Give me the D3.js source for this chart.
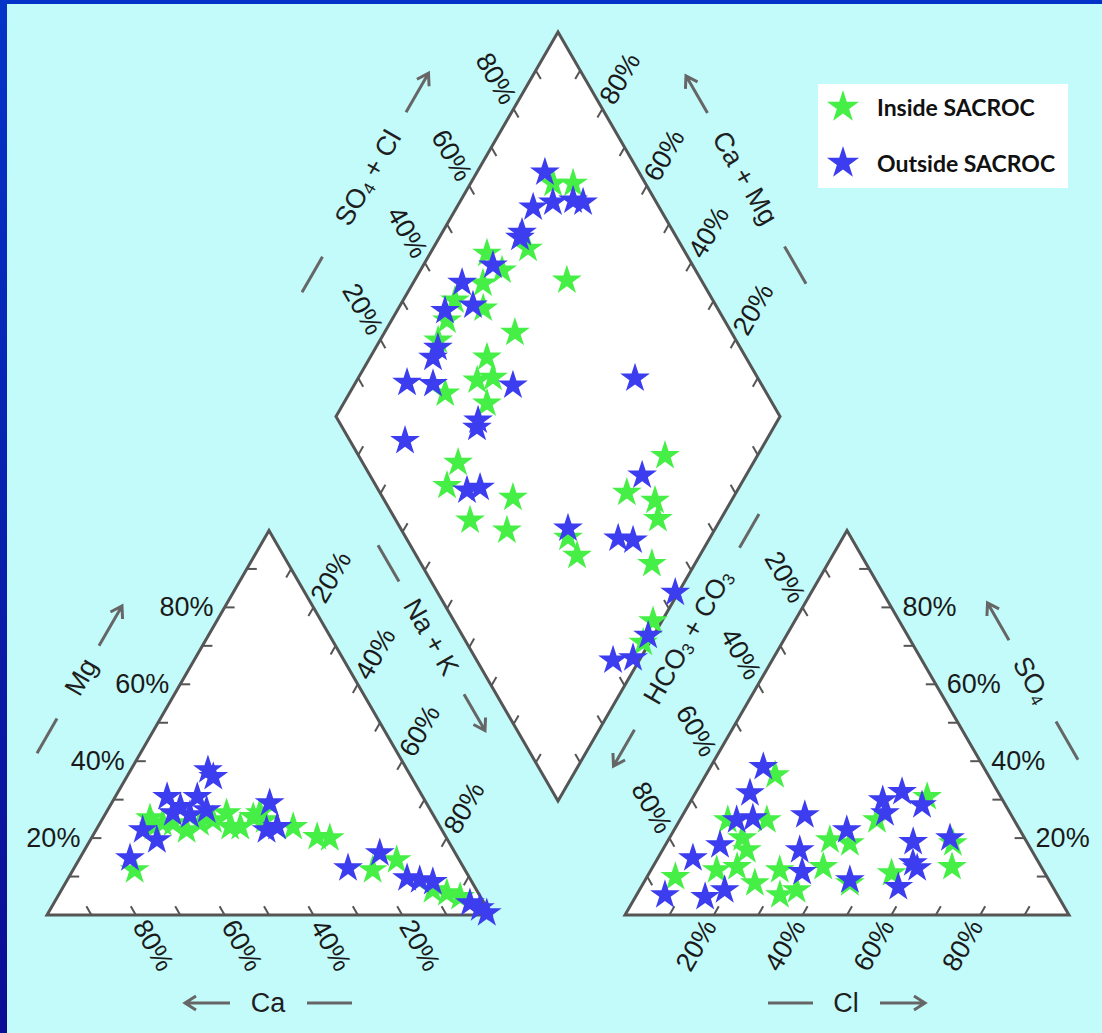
<!DOCTYPE html>
<html><head><meta charset="utf-8">
<script src="https://cdn.jsdelivr.net/npm/d3@7"></script>
<style>body{margin:0;background:#c3fbfb;overflow:hidden} svg{display:block}</style>
</head><body>
<svg id="c" width="1102" height="1033"></svg>
<script>
// ---------------- DATA (percent) ----------------
// Cation triangle: [Na+K, Mg]  (Ca = remainder)
const cationInside = [[13.9,11.7],[12.5,22.9],[14.1,23.9],[16.4,23.9],[20.4,22.1],[22.5,23.9],[27.2,26.5],[29.8,22.9],[32.1,22.9],[33.7,25.5],[34.7,26.5],[44.0,22.9],[50.7,20.3],[53.7,20.0],[67.5,11.7],[71.6,14.3],[83.6,6.5],[87.2,5.7],[90.7,4.7],[10.6,25.2],[25.0,24.7],[36.7,24.7]];
const cationOutside = [[11.3,14.8],[17.4,37.7],[19.5,35.9],[11.7,30.7],[18.5,30.7],[16.0,28.1],[15.1,26.5],[10.5,22.1],[15.0,19.5],[22.3,27.3],[35.6,29.1],[38.4,22.1],[40.4,22.9],[61.7,12.2],[66.9,16.1],[76.3,9.6],[79.4,9.1],[82.6,8.6],[93.7,3.1],[98.8,0.5],[96.6,1.8],[19.2,26.0]];
// Anion triangle: [Cl, SO4]  (HCO3+CO3 = remainder)
const anionInside = [[15.6,36.4],[10.8,24.7],[16.4,20.0],[19.6,24.7],[19.0,16.9],[6.4,9.9],[14.8,11.7],[25.1,8.3],[29.0,11.7],[32.3,5.2],[38.4,12.5],[36.4,19.5],[41.3,18.7],[46.5,8.3],[44.4,24.7],[52.7,30.7],[54.6,10.9],[67.4,12.5],[64.5,18.7],[35.4,6.5],[19.0,12.5]];
const anionOutside = [[11.9,38.5],[12.3,31.7],[27.5,26.0],[38.9,22.1],[43.1,29.9],[46.4,32.0],[45.3,26.5],[52.6,28.6],[55.4,19.0],[63.2,20.0],[58.1,13.5],[59.7,12.2],[57.9,7.3],[46.1,9.1],[30.9,16.9],[34.3,11.2],[12.3,18.2],[7.9,14.8],[6.4,5.2],[15.7,4.7],[19.2,6.5],[12.8,24.7],[16.2,25.2]];
// Diamond: [Na+K, SO4+Cl]
const diamondInside = [[18.6,79.2],[23.1,83.7],[21.4,65.1],[12.8,55.2],[18.4,56.4],[15.8,50.4],[11.7,41.9],[19.1,47.2],[12.5,37.5],[13.1,32.9],[34.3,69.7],[29.4,51.2],[26.3,41.7],[30.3,40.4],[27.1,36.5],[21.6,27.6],[32.3,35.7],[33.5,21.5],[34.0,16.0],[50.4,29.3],[43.7,16.7],[53.3,23.7],[68.0,36.5],[72.4,36.2],[79.2,69.0],[75.4,55.6],[82.8,60.9],[85.8,59.2],[90.3,52.0],[98.0,44.8],[98.6,39.8]];
const diamondOutside = [[15.3,78.8],[17.2,71.6],[21.0,76.7],[25.3,81.5],[27.8,83.5],[18.0,65.8],[18.2,64.7],[15.7,55.0],[11.0,45.8],[16.4,45.3],[10.8,38.3],[14.0,31.9],[14.2,29.5],[11.6,20.4],[17.6,26.1],[35.8,43.9],[62.4,72.3],[32.5,31.5],[33.2,30.3],[18.7,12.4],[39.1,19.9],[41.7,23.2],[66.8,37.7],[76.6,61.3],[79.4,47.7],[83.0,50.8],[99.3,53.5],[98.8,41.8],[94.1,30.7],[98.3,35.5]];
const tickValues = [10,20,30,40,50,60,70,80,90];
const labelValues = [20,40,60,80];
const seriesNames = ["Inside SACROC","Outside SACROC"];
const seriesColors = ["#46ef46","#3d3df0"];

// ---------------- GEOMETRY ----------------
const svg = d3.select("#c");
const S = 444, H = S*Math.sqrt(3)/2;
const LX = 47, RX = 625, Y0 = 915;
const DLx = 336, DLy = 416.5;
const xL = d3.scaleLinear().domain([0,100]).range([LX, LX+S]);
const xR = d3.scaleLinear().domain([0,100]).range([RX, RX+S]);
const yT = d3.scaleLinear().domain([0,100]).range([Y0, Y0-H]);
const xD = d3.scaleLinear().domain([0,200]).range([DLx, DLx+S]);
const yD = d3.scaleLinear().domain([-100,100]).range([DLy-H, DLy+H]);
const cat = (n,m) => [xL(n+m/2), yT(m)];
const an = (c,s) => [xR(c+s/2), yT(s)];
const dia = (u,v) => [xD(u+v), yD(u-v)];

// background + border
const defs = svg.append("defs");
const g1 = defs.append("linearGradient").attr("id","lb").attr("x1",0).attr("y1",0).attr("x2",0).attr("y2",1);
g1.append("stop").attr("offset","0%").attr("stop-color","#0434c8");
g1.append("stop").attr("offset","100%").attr("stop-color","#0c0c94");
svg.append("rect").attr("width",1102).attr("height",1033).attr("fill","#c3fbfb");
svg.append("rect").attr("width",1102).attr("height",4).attr("fill","#0432c8");
svg.append("rect").attr("width",7).attr("height",1033).attr("fill","url(#lb)");

const edge = "#555555";
const line = d3.line();
function poly(pts){
  svg.append("path").attr("d", line(pts)+"Z").attr("fill","#ffffff")
    .attr("stroke",edge).attr("stroke-width",3).attr("stroke-linejoin","miter");
}
poly([cat(0,0),cat(100,0),cat(0,100)]);
poly([an(0,0),an(100,0),an(0,100)]);
poly([dia(0,0),dia(0,100),dia(100,100),dia(100,0)]);

// ticks
const TL = 10, c60 = 0.5, s60 = Math.sqrt(3)/2;
const tickG = svg.append("g").attr("stroke",edge).attr("stroke-width",2);
function ticks(posFn, dir){
  tickValues.forEach(v=>{
    const p = posFn(v);
    tickG.append("line").attr("x1",p[0]).attr("y1",p[1])
      .attr("x2",p[0]+dir[0]*TL).attr("y2",p[1]+dir[1]*TL);
  });
}
ticks(v=>cat(0,v),[1,0]);
ticks(v=>cat(v,100-v),[-c60,s60]);
ticks(v=>cat(100-v,0),[-c60,-s60]);
ticks(v=>an(v,0),[c60,-s60]);
ticks(v=>an(100-v,v),[-1,0]);
ticks(v=>an(0,100-v),[c60,s60]);
ticks(v=>dia(0,v),[c60,s60]);
ticks(v=>dia(v,100),[-c60,s60]);
ticks(v=>dia(v,0),[c60,-s60]);
ticks(v=>dia(100,v),[-c60,-s60]);

// tick labels
const FONT = "'Liberation Sans', Arial, sans-serif";
const labG = svg.append("g").attr("font-family",FONT).attr("font-size",27).attr("fill","#1a1a1a");
function labels(posFn, off, rot, anchor){
  labelValues.forEach(v=>{
    const p = posFn(v);
    const x = p[0]+off[0], y = p[1]+off[1];
    labG.append("text").attr("x",x).attr("y",y)
      .attr("transform", rot ? `rotate(${rot},${x},${y})` : null)
      .attr("text-anchor",anchor).attr("dominant-baseline","central")
      .text(v+"%");
  });
}
const O = 8;
labels(v=>cat(0,v),[-11,0],0,"end");
labels(v=>cat(v,100-v),[O*c60,-O*s60],-60,"start");
labels(v=>cat(100-v,0),[O*c60,O*s60],60,"start");
labels(v=>an(v,0),[-O*c60,O*s60],-60,"end");
labels(v=>an(100-v,v),[11,0],0,"start");
labels(v=>an(0,100-v),[-O*c60,-O*s60],60,"end");
labels(v=>dia(0,v),[-O*c60,-O*s60],60,"end");
labels(v=>dia(100-v,100),[O*c60,-O*s60],-60,"start");

// axis titles with dash and arrow
const tG = svg.append("g").attr("font-family",FONT).attr("font-size",27).attr("fill","#1f1f1f");
function arrowPath(a,b){
  const d = b>a?1:-1;
  return `M${a},0L${b},0M${b-d*11},-7L${b},0L${b-d*11},7`;
}
function title(cx,cy,rot,parts,dash,arrow){
  const g = tG.append("g").attr("transform",`translate(${cx},${cy}) rotate(${rot})`);
  const t = g.append("text").attr("x",0).attr("y",0).attr("text-anchor","middle").attr("dominant-baseline","central");
  parts.forEach(p=>{
    const ts = t.append("tspan").text(p.t);
    if(p.sub){ ts.attr("font-size",17).attr("dy",6); }
    if(p.up){ ts.attr("dy",-6); }
  });
  g.append("path").attr("d",`M${dash[0]},0L${dash[1]},0`).attr("stroke","#666").attr("stroke-width",3).attr("fill","none");
  g.append("path").attr("d",arrowPath(arrow[0],arrow[1])).attr("stroke","#666").attr("stroke-width",3).attr("fill","none").attr("stroke-linejoin","miter");
}
title(81,677,-60,[{t:"Mg"}],[-88,-48],[36,82]);
title(268,1003,0,[{t:"Ca"}],[39,84],[-38,-83]);
title(431,637,60,[{t:"Na + K"}],[-106,-64],[66,108]);
title(846,1003,0,[{t:"Cl"}],[-78,-33],[34,79]);
title(688,637,-60,[{t:"HCO"},{t:"3",sub:true},{t:" + CO",up:true},{t:"3",sub:true}],[103,142],[-107,-149]);
title(1032,680,60,[{t:"SO"},{t:"4",sub:true}],[48,92],[-46,-89]);
title(368,178,-60,[{t:"SO"},{t:"4",sub:true},{t:" + Cl",up:true}],[-91,-132],[76,121]);
title(745,178,60,[{t:"Ca + Mg"}],[79,122],[-75,-118]);

// points
const star = d3.symbol().type(d3.symbolStar).size(275);
function plot(data, posFn, color){
  svg.append("g").selectAll("path").data(data).join("path")
    .attr("d",star).attr("fill",color)
    .attr("transform",d=>{const p=posFn(d[0],d[1]); return `translate(${p[0]},${p[1]})`;});
}
plot(cationInside,cat,seriesColors[0]);
plot(anionInside,an,seriesColors[0]);
plot(diamondInside,dia,seriesColors[0]);
plot(cationOutside,cat,seriesColors[1]);
plot(anionOutside,an,seriesColors[1]);
plot(diamondOutside,dia,seriesColors[1]);

// legend
const lg = svg.append("g");
lg.append("rect").attr("x",818).attr("y",84).attr("width",250).attr("height",104).attr("fill","#ffffff");
seriesNames.forEach((n,i)=>{
  const y = 107 + i*56;
  lg.append("path").attr("d",d3.symbol().type(d3.symbolStar).size(320)).attr("fill",seriesColors[i])
    .attr("transform",`translate(843,${y})`);
  lg.append("text").attr("x",877).attr("y",y).attr("dominant-baseline","central")
    .attr("font-family","Lato, 'Open Sans', sans-serif").attr("font-weight","bold").attr("font-size",23)
    .attr("fill","#111").text(n);
});
</script>
</body></html>
